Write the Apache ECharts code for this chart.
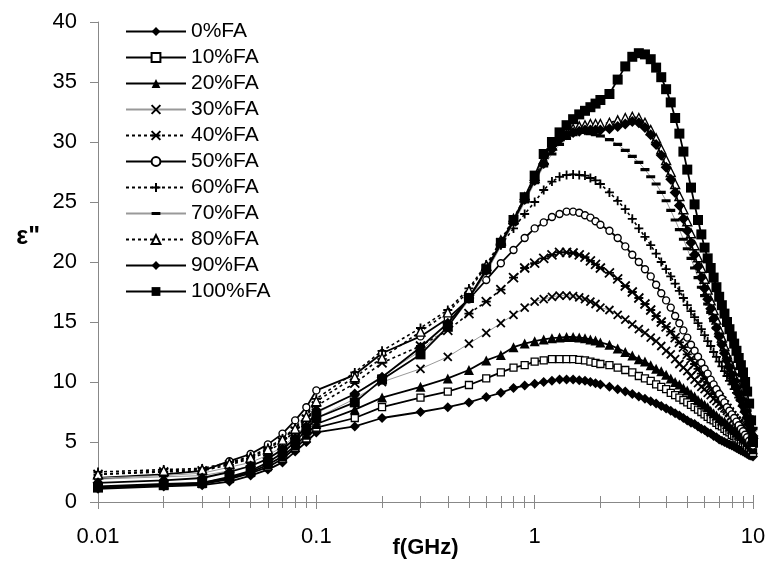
<!DOCTYPE html>
<html><head><meta charset="utf-8">
<script src="https://cdn.jsdelivr.net/npm/echarts@6/dist/echarts.min.js"></script>
<style>html,body{margin:0;padding:0;background:#fff}#c{width:767px;height:563px}</style>
</head><body><div id="c"></div>
<script>
// frequency points (GHz)
var freq = [0.01,0.02,0.03,0.04,0.05,0.06,0.07,0.08,0.09,0.1,0.15,
  0.2,0.3,0.4,0.5,0.6,0.7,0.8,0.9,1.0,
  1.1,1.2,1.3,1.4,1.5,1.6,1.7,1.8,1.9,2.0,
  2.2,2.4,2.6,2.8,3.0,3.2,3.4,3.6,3.8,4.0,4.2,4.4,4.6,4.8,5.0,5.2,5.4,5.6,5.8,6.0,
  6.2,6.4,6.6,6.8,7.0,7.2,7.4,7.6,7.8,8.0,8.2,8.4,8.6,8.8,9.0,9.2,9.4,9.6,9.8,10.0];

var seriesNames = ['0%FA','10%FA','20%FA','30%FA','40%FA','50%FA','60%FA','70%FA','80%FA','90%FA','100%FA'];

var fa0 = [1.1,1.3,1.4,1.7,2.2,2.7,3.3,4.2,5.0,5.8,6.3,7.0,
  7.5,7.9,8.3,8.75,9.1,9.5,9.7,9.85,
  10.0,10.1,10.2,10.2,10.2,10.15,10.1,10.0,9.9,9.8,
  9.6,9.4,9.2,9.0,8.8,8.6,8.4,8.2,8.0,7.8,7.6,7.4,7.2,7.0,6.8,6.6,6.5,6.3,6.1,6.0,
  5.8,5.7,5.5,5.4,5.2,5.1,5.0,4.9,4.8,4.7,4.6,4.5,4.4,4.3,4.2,4.1,4.0,3.9,3.85,3.8];
var fa10 = [1.2,1.4,1.5,1.9,2.4,2.9,3.6,4.5,5.3,6.2,7.0,7.9,
  8.7,9.2,9.75,10.3,10.8,11.2,11.4,11.7,
  11.8,11.9,11.9,11.9,11.9,11.85,11.8,11.7,11.6,11.5,
  11.4,11.2,11.0,10.8,10.5,10.3,10.1,9.8,9.6,9.4,9.1,8.9,8.7,8.5,8.3,8.1,7.9,7.7,7.5,7.3,
  7.1,6.9,6.8,6.6,6.4,6.3,6.1,5.9,5.8,5.6,5.5,5.3,5.2,5.0,4.9,4.8,4.6,4.5,4.3,4.1];
var fa20 = [1.3,1.5,1.6,2.0,2.5,3.1,3.8,4.7,5.6,6.5,7.7,8.7,
  9.6,10.3,11.0,11.8,12.25,12.9,13.2,13.4,
  13.55,13.65,13.7,13.75,13.75,13.7,13.65,13.55,13.45,13.3,
  13.1,12.8,12.5,12.2,11.9,11.7,11.4,11.1,10.9,10.6,10.3,10.0,9.8,9.5,9.3,9.0,8.8,8.5,8.3,8.1,
  7.9,7.6,7.4,7.2,7.0,6.8,6.7,6.5,6.3,6.1,6.0,5.8,5.6,5.5,5.3,5.2,5.0,4.8,4.6,4.4];
var fa30 = [1.9,2.1,2.2,2.6,3.0,3.6,4.3,5.2,6.1,7.0,8.6,10.0,
  11.1,12.1,13.2,14.1,14.9,15.6,16.2,16.7,
  16.9,17.1,17.2,17.2,17.15,17.05,16.9,16.7,16.5,16.2,
  16.0,15.6,15.2,14.8,14.4,14.1,13.7,13.4,13.0,12.6,12.3,11.9,11.5,11.2,10.9,10.5,10.2,9.9,9.6,9.4,
  9.1,8.9,8.6,8.4,8.2,8.0,7.8,7.6,7.4,7.2,7.0,6.8,6.6,6.4,6.2,6.0,5.7,5.4,5.1,4.8];
var fa40 = [2.3,2.5,2.6,3.1,3.6,4.2,5.0,5.9,6.9,8.0,9.9,11.6,
  13.0,14.3,15.7,16.7,17.7,18.7,19.5,19.9,
  20.3,20.6,20.8,20.8,20.75,20.6,20.4,20.1,19.8,19.5,
  19.1,18.6,18.0,17.5,17.0,16.5,16.0,15.5,15.0,14.6,14.2,13.7,13.3,12.9,12.3,11.9,11.5,11.1,10.7,10.3,
  10.0,9.6,9.3,9.0,8.7,8.4,8.1,7.8,7.5,7.2,6.95,6.7,6.45,6.2,6.0,5.75,5.5,5.3,5.1,4.9];
var fa50 = [2.0,2.3,2.6,3.4,4.0,4.8,5.7,6.8,7.9,9.3,10.6,12.4,
  13.8,15.3,16.9,18.5,19.9,21.0,22.0,22.8,
  23.3,23.75,24.0,24.2,24.2,24.1,23.9,23.7,23.4,23.1,
  22.6,22.0,21.3,20.6,20.0,19.4,18.8,18.1,17.4,16.8,16.2,15.5,14.9,14.3,13.7,13.1,12.6,12.1,11.6,11.1,
  10.7,10.2,9.8,9.4,9.0,8.6,8.3,7.9,7.6,7.3,7.0,6.7,6.4,6.1,5.9,5.6,5.4,5.1,4.9,4.7];
var fa60 = [2.5,2.7,2.8,3.3,3.8,4.5,5.3,6.2,7.2,8.6,10.8,12.6,
  14.5,16.0,17.8,19.8,21.4,22.8,24.0,25.0,
  26.0,26.7,27.1,27.25,27.3,27.25,27.2,27.0,26.8,26.5,
  25.8,25.1,24.4,23.6,22.8,22.1,21.4,20.7,20.0,19.4,18.8,18.2,17.6,17.0,16.4,15.9,15.4,14.9,14.4,13.9,
  13.4,13.0,12.5,12.1,11.7,11.3,10.9,10.5,10.1,9.8,9.4,9.1,8.7,8.4,8.0,7.7,7.3,7.0,6.6,6.2];
var fa70 = [2.0,2.2,2.4,2.9,3.3,3.9,4.6,5.5,6.4,7.4,9.0,10.5,
  12.6,14.6,16.8,19.1,21.3,23.2,25.0,26.6,
  28.0,29.0,29.8,30.3,30.6,30.8,30.8,30.7,30.6,30.5,
  30.2,29.8,29.3,28.8,28.3,27.7,27.1,26.5,25.8,25.1,24.3,23.5,22.7,21.9,21.1,20.3,19.5,18.7,17.9,17.2,
  16.5,15.8,15.1,14.5,13.9,13.3,12.7,12.1,11.6,11.1,10.6,10.1,9.6,9.1,8.6,8.1,7.6,7.1,6.6,6.1];
var fa80 = [2.3,2.6,2.7,3.2,3.7,4.4,5.2,6.1,7.1,8.4,10.4,12.0,
  14.2,15.8,17.6,19.7,21.8,23.6,25.4,27.0,
  28.5,29.7,30.5,30.9,31.1,31.3,31.4,31.5,31.5,31.5,
  31.6,31.8,32.0,32.1,32.0,31.6,31.0,30.3,29.4,28.5,27.5,26.5,25.5,24.4,23.4,22.4,21.4,20.4,19.5,18.6,
  17.7,16.8,16.0,15.2,14.4,13.7,13.0,12.3,11.7,11.1,10.5,10.0,9.4,8.9,8.4,7.9,7.4,6.9,6.3,5.7];
var fa90 = [1.6,1.8,2.0,2.5,3.0,3.6,4.4,5.3,6.3,7.5,9.0,10.4,
  12.9,14.9,17.0,19.3,21.5,23.4,25.2,26.8,
  28.2,29.4,30.2,30.6,30.8,30.9,31.0,31.0,31.0,31.0,
  31.1,31.3,31.5,31.7,31.6,31.2,30.6,29.8,28.9,27.9,26.9,25.8,24.7,23.6,22.6,21.6,20.6,19.6,18.7,17.8,
  16.9,16.1,15.3,14.5,13.8,13.1,12.4,11.8,11.2,10.6,10.0,9.5,9.0,8.5,8.0,7.5,7.0,6.5,6.0,5.5];
var fa100 = [1.2,1.4,1.6,2.1,2.6,3.3,4.1,5.0,6.0,7.0,8.3,10.2,
  12.3,14.6,17.0,19.4,21.6,23.5,25.4,27.2,
  29.0,30.0,30.8,31.4,31.9,32.3,32.6,32.9,33.2,33.5,
  34.0,35.2,36.3,37.1,37.4,37.3,36.9,36.2,35.4,34.4,33.3,32.0,30.7,29.2,27.7,26.2,24.8,23.5,22.3,21.2,
  20.3,19.5,18.7,17.9,17.1,16.4,15.7,15.0,14.4,13.8,13.2,12.6,12.0,11.4,10.8,10.0,9.2,8.2,6.8,5.0];

var seriesValues = [fa0,fa10,fa20,fa30,fa40,fa50,fa60,fa70,fa80,fa90,fa100];

var xTickValues = [0.01,0.1,1,10];
var xTickLabels = ['0.01','0.1','1','10'];
var yTickLabels = ['0','5','10','15','20','25','30','35','40'];

// styles (not data)
var FONT = 'Liberation Sans, Arial, sans-serif';
var SOLID = {color:'#000',width:1.8,type:'solid'};
var GREY = {color:'#999',width:1,type:'solid'};
var DOT = {color:'#000',width:1.6,type:[3,3]};
var styles = [
  {symbol:'diamond',size:10,line:SOLID,item:{color:'#000'}},
  {symbol:'rect',size:7,line:SOLID,item:{color:'#fff',borderColor:'#000',borderWidth:1.3}},
  {symbol:'triangle',size:10,line:SOLID,item:{color:'#000'}},
  {symbol:'path://M0,0L10,10M10,0L0,10',size:8,line:GREY,item:{color:'#000',borderColor:'#000',borderWidth:1.8}},
  {symbol:'path://M0,0L10,10M10,0L0,10M0,5L10,5',size:9,line:DOT,item:{color:'#000',borderColor:'#000',borderWidth:1.8}},
  {symbol:'circle',size:7,line:SOLID,item:{color:'#fff',borderColor:'#000',borderWidth:1.4}},
  {symbol:'path://M5,0L5,10M0,5L10,5',size:9,line:DOT,item:{color:'#000',borderColor:'#000',borderWidth:1.8}},
  {symbol:'path://M0,0L0,0ZM0,3.3L10,3.3L10,6.7L0,6.7ZM10,10L10,10Z',size:9,line:GREY,item:{color:'#000'}},
  {symbol:'triangle',size:9,line:DOT,item:{color:'#fff',borderColor:'#000',borderWidth:1.4}},
  {symbol:'diamond',size:11,line:SOLID,item:{color:'#000'}},
  {symbol:'rect',size:10,line:SOLID,item:{color:'#000'}}
];

var series = seriesNames.map(function(n,i){
  var st = styles[i];
  return {
    name:n, type:'line', xAxisIndex:0, yAxisIndex:0,
    data: freq.map(function(f,k){return [f, seriesValues[i][k]];}),
    symbol: st.symbol, symbolSize: st.size, showSymbol:true,
    lineStyle: st.line, itemStyle: st.item,
    emphasis:{disabled:true}, z: 2+i
  };
});

function xFmt(v){
  var best=0, d=1e9;
  for (var i=0;i<xTickValues.length;i++){var dd=Math.abs(Math.log10(v)-Math.log10(xTickValues[i])); if(dd<d){d=dd;best=i;}}
  return xTickLabels[best];
}

var xBase = {
  type:'log', logBase:10, min:0.01, max:10, gridIndex:0, position:'bottom',
  splitLine:{show:false}
};

var chart = echarts.init(document.getElementById('c'), null, {renderer:'canvas'});
chart.setOption({
  animation:false,
  backgroundColor:'#fff',
  grid:{left:98,right:14,top:22,bottom:61,containLabel:false,outerBoundsMode:'none'},
  legend:{
    orient:'vertical', left:125, top:21, padding:0, itemWidth:60, itemHeight:11, itemGap:5,
    textStyle:{fontFamily:FONT,fontSize:21,color:'#000'},
    data: seriesNames
  },
  xAxis:[
    Object.assign({}, xBase, {
      name:'f(GHz)', nameLocation:'middle', nameGap:35, nameMoveOverlap:false,
      nameTextStyle:{fontFamily:FONT,fontSize:22,fontWeight:'bold',color:'#000'},
      axisLine:{show:true,lineStyle:{color:'#888',width:1}},
      axisTick:{show:true,length:7,lineStyle:{color:'#888'}},
      minorTick:{show:true,splitNumber:9,length:6,lineStyle:{color:'#888'}},
      axisLabel:{fontFamily:FONT,fontSize:22,color:'#000',margin:24,formatter:xFmt}
    }),
    Object.assign({}, xBase, {
      axisLine:{show:false},
      axisTick:{show:true,inside:true,length:7,lineStyle:{color:'#888'}},
      minorTick:{show:true,splitNumber:9,length:6,lineStyle:{color:'#888'}},
      axisLabel:{show:false}
    })
  ],
  yAxis:{
    type:'value', min:0, max:40, interval:5,
    name:'ε"', nameLocation:'middle', nameRotate:0, nameGap:58, nameMoveOverlap:false,
    nameTextStyle:{fontFamily:FONT,fontSize:25,fontWeight:'bold',color:'#000',verticalAlign:'bottom',padding:[0,0,12,0]},
    axisLine:{show:true,lineStyle:{color:'#888',width:1}},
    axisTick:{show:true,length:8,lineStyle:{color:'#888'}},
    splitLine:{show:false},
    axisLabel:{fontFamily:FONT,fontSize:22,color:'#000',margin:21,
      formatter:function(v){return yTickLabels[Math.round(v/5)];}}
  },
  series: series
});
</script>
</body></html>
